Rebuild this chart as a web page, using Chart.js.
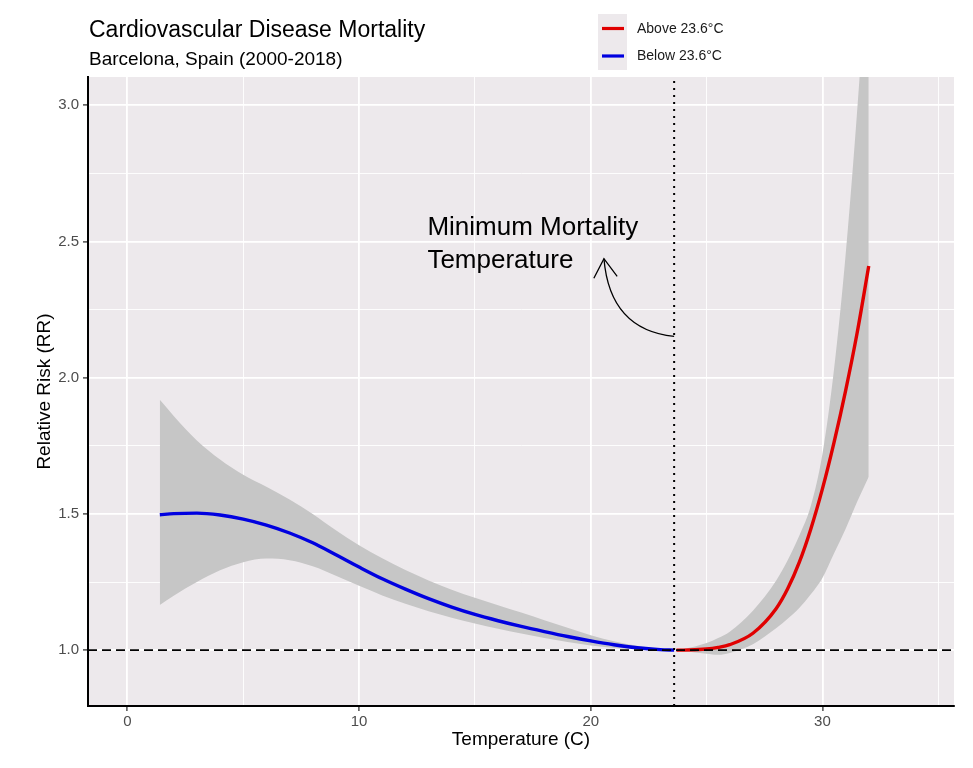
<!DOCTYPE html>
<html>
<head>
<meta charset="utf-8">
<title>Cardiovascular Disease Mortality</title>
<script src="https://cdn.jsdelivr.net/npm/chart.js@4.4.1/dist/chart.umd.min.js"></script>
<style>
  html, body { margin: 0; padding: 0; background: #ffffff; }
  #wrap { width: 973px; height: 768px; }
</style>
</head>
<body>
<div id="wrap"><canvas id="rr-chart" width="973" height="768"></canvas></div>
<script>
// Exposure-response curve, below the minimum mortality temperature
const belowTemp = [1.4, 2, 3, 4, 5, 6, 7, 8, 9, 10, 11, 12, 13, 14, 15, 16, 17, 18, 19, 20, 21, 22, 23, 23.6];
const belowRR   = [1.497, 1.501, 1.503, 1.496, 1.481, 1.459, 1.430, 1.394, 1.350, 1.305, 1.262, 1.224, 1.189, 1.158, 1.131, 1.108, 1.087, 1.068, 1.050, 1.034, 1.020, 1.009, 1.002, 1.000];
const belowLow  = [1.166, 1.200, 1.250, 1.293, 1.323, 1.336, 1.330, 1.308, 1.273, 1.236, 1.201, 1.170, 1.143, 1.119, 1.098, 1.079, 1.061, 1.045, 1.030, 1.017, 1.008, 1.003, 1.000, 1.000];
const belowHigh = [1.919, 1.860, 1.770, 1.700, 1.644, 1.600, 1.553, 1.500, 1.440, 1.385, 1.337, 1.294, 1.256, 1.222, 1.192, 1.165, 1.138, 1.110, 1.082, 1.055, 1.033, 1.016, 1.004, 1.000];

// above the minimum mortality temperature
const aboveTemp = [23.7, 24, 25, 25.5, 26, 27, 28, 28.5, 29, 29.5, 30, 30.5, 31, 31.5, 32];
const aboveRR   = [1.000, 1.000, 1.004, 1.010, 1.020, 1.062, 1.152, 1.225, 1.322, 1.445, 1.592, 1.762, 1.952, 2.165, 2.410];
const aboveLow  = [1.000, 0.997, 0.987, 0.983, 0.990, 1.022, 1.080, 1.115, 1.155, 1.205, 1.265, 1.355, 1.445, 1.545, 1.637];
const aboveHigh = [1.000, 1.004, 1.026, 1.045, 1.068, 1.145, 1.255, 1.330, 1.420, 1.530, 1.720, 2.030, 2.450, 2.980, 3.600];

// axes
const xMajorTicks = [0, 10, 20, 30];
const xMinorTicks = [5, 15, 25, 35];
const yMajorTicks = [1.0, 1.5, 2.0, 2.5, 3.0];
const yMinorTicks = [1.25, 1.75, 2.25, 2.75];
const xRange = [-1.7, 35.68];
const yRange = [0.795, 3.104];

const mmt = 23.6;   // minimum mortality temperature
const refRR = 1.0;

const legendLabels = ["Above 23.6°C", "Below 23.6°C"];

Chart.defaults.font.family = '"Liberation Sans", Arial, Helvetica, sans-serif';

const PANEL = "#EDE9EC";
const BAND = "#C6C6C6";
const RED = "#E00000";
const BLUE = "#0000E0";

const toPoints = (xs, ys) => xs.map((x, i) => ({ x: x, y: ys[i] }));

// grey panel behind the grid
const panelBackground = {
  id: "panelBackground",
  beforeDraw(chart) {
    const { ctx, chartArea: { left, top, width, height } } = chart;
    ctx.save();
    ctx.fillStyle = PANEL;
    ctx.fillRect(left, top, width, height);
    ctx.restore();
  },
};

// titles, legend and the annotation with the curved arrow
const decorations = {
  id: "decorations",
  afterDraw(chart) {
    const ctx = chart.ctx;
    const xs = chart.scales.x;
    const ys = chart.scales.y;
    ctx.save();

    // title + subtitle
    ctx.fillStyle = "#000000";
    ctx.textAlign = "left";
    ctx.textBaseline = "alphabetic";
    ctx.font = '23px "Liberation Sans", Arial, sans-serif';
    ctx.fillText("Cardiovascular Disease Mortality", 89, 37);
    ctx.font = '19px "Liberation Sans", Arial, sans-serif';
    ctx.fillText("Barcelona, Spain (2000-2018)", 89, 65);

    // legend
    ctx.fillStyle = PANEL;
    ctx.fillRect(598, 14, 29, 56);
    ctx.lineWidth = 3.2;
    ctx.strokeStyle = RED;
    ctx.beginPath();
    ctx.moveTo(602, 28.5);
    ctx.lineTo(624, 28.5);
    ctx.stroke();
    ctx.strokeStyle = BLUE;
    ctx.beginPath();
    ctx.moveTo(602, 56);
    ctx.lineTo(624, 56);
    ctx.stroke();
    ctx.fillStyle = "#1A1A1A";
    ctx.font = '14px "Liberation Sans", Arial, sans-serif';
    ctx.textBaseline = "middle";
    ctx.fillText(legendLabels[0], 637, 29);
    ctx.fillText(legendLabels[1], 637, 56.5);

    // annotation text
    ctx.fillStyle = "#000000";
    ctx.textBaseline = "alphabetic";
    ctx.font = '26px "Liberation Sans", Arial, sans-serif';
    const tx = xs.getPixelForValue(12.95);
    const ty = ys.getPixelForValue(2.525);
    ctx.fillText("Minimum Mortality", tx, ty);
    ctx.fillText("Temperature", tx, ty + 33);

    // curved arrow from the MMT line up towards the text
    const p0 = { x: xs.getPixelForValue(mmt), y: ys.getPixelForValue(2.152) };
    const c = { x: xs.getPixelForValue(20.83), y: ys.getPixelForValue(2.176) };
    const p1 = { x: xs.getPixelForValue(20.57), y: ys.getPixelForValue(2.437) };
    ctx.strokeStyle = "#000000";
    ctx.lineWidth = 1.3;
    ctx.beginPath();
    ctx.moveTo(p0.x, p0.y);
    ctx.quadraticCurveTo(c.x, c.y, p1.x, p1.y);
    ctx.stroke();

    const ang = Math.atan2(p1.y - c.y, p1.x - c.x);
    const headLen = 22;
    const spread = Math.PI / 5.6;
    ctx.beginPath();
    ctx.moveTo(p1.x - headLen * Math.cos(ang - spread), p1.y - headLen * Math.sin(ang - spread));
    ctx.lineTo(p1.x, p1.y);
    ctx.lineTo(p1.x - headLen * Math.cos(ang + spread), p1.y - headLen * Math.sin(ang + spread));
    ctx.stroke();

    ctx.restore();
  },
};

const isMajorX = (v) => xMajorTicks.includes(v);
const isMajorY = (v) => yMajorTicks.includes(v);

const bandStyle = {
  borderWidth: 0,
  borderColor: "rgba(0,0,0,0)",
  backgroundColor: BAND,
  pointRadius: 0,
  cubicInterpolationMode: "monotone",
  order: 2,
};

new Chart(document.getElementById("rr-chart"), {
  type: "line",
  data: {
    datasets: [
      // confidence bands
      Object.assign({ label: "below-high", data: toPoints(belowTemp, belowHigh), fill: "+1" }, bandStyle),
      Object.assign({ label: "below-low", data: toPoints(belowTemp, belowLow), fill: false }, bandStyle),
      Object.assign({ label: "above-high", data: toPoints(aboveTemp, aboveHigh), fill: "+1" }, bandStyle),
      Object.assign({ label: "above-low", data: toPoints(aboveTemp, aboveLow), fill: false }, bandStyle),
      // curves
      {
        label: legendLabels[1],
        data: toPoints(belowTemp, belowRR),
        borderColor: BLUE,
        borderWidth: 3.4,
        pointRadius: 0,
        fill: false,
        cubicInterpolationMode: "monotone",
        order: 1,
      },
      {
        label: legendLabels[0],
        data: toPoints(aboveTemp, aboveRR),
        borderColor: RED,
        borderWidth: 3.4,
        pointRadius: 0,
        fill: false,
        cubicInterpolationMode: "monotone",
        order: 1,
      },
      // reference lines
      {
        label: "RR = 1",
        data: [{ x: xRange[0], y: refRR }, { x: xRange[1], y: refRR }],
        borderColor: "#000000",
        borderWidth: 1.7,
        borderDash: [9, 5],
        pointRadius: 0,
        fill: false,
        order: 0,
      },
      {
        label: "MMT",
        data: [{ x: mmt, y: yRange[0] }, { x: mmt, y: yRange[1] }],
        borderColor: "#000000",
        borderWidth: 2,
        borderDash: [2, 5],
        pointRadius: 0,
        fill: false,
        order: 0,
      },
    ],
  },
  options: {
    responsive: false,
    animation: false,
    events: [],
    layout: {
      padding: { left: 0, top: 77, right: 19, bottom: 0 },
    },
    scales: {
      x: {
        type: "linear",
        min: xRange[0],
        max: xRange[1],
        afterBuildTicks(scale) {
          scale.ticks = xMajorTicks.concat(xMinorTicks).sort((a, b) => a - b).map((v) => ({ value: v }));
        },
        afterFit(scale) {
          scale.height = 62;
          scale.paddingLeft = 0;
          scale.paddingRight = 0;
        },
        ticks: {
          autoSkip: false,
          maxRotation: 0,
          padding: 2,
          color: "#4D4D4D",
          font: { size: 15 },
          callback: (value) => (isMajorX(value) ? String(value) : ""),
        },
        grid: {
          color: "#FFFFFF",
          lineWidth: (ctx) => (ctx.tick && isMajorX(ctx.tick.value) ? 1.8 : 0.9),
          tickColor: (ctx) => (ctx.tick && isMajorX(ctx.tick.value) ? "#333333" : "rgba(0,0,0,0)"),
          tickWidth: 1.3,
          tickLength: 5,
        },
        border: { display: true, color: "#000000", width: 2 },
        title: {
          display: true,
          text: "Temperature (C)",
          color: "#000000",
          font: { size: 19 },
          padding: { top: 0, bottom: 17 },
        },
      },
      y: {
        type: "linear",
        min: yRange[0],
        max: yRange[1],
        afterBuildTicks(scale) {
          scale.ticks = yMajorTicks.concat(yMinorTicks).sort((a, b) => a - b).map((v) => ({ value: v }));
        },
        afterFit(scale) {
          scale.width = 88;
          scale.paddingTop = 0;
          scale.paddingBottom = 0;
        },
        ticks: {
          autoSkip: false,
          padding: 4,
          color: "#4D4D4D",
          font: { size: 15 },
          callback: (value) => (isMajorY(value) ? value.toFixed(1) : ""),
        },
        grid: {
          color: "#FFFFFF",
          lineWidth: (ctx) => (ctx.tick && isMajorY(ctx.tick.value) ? 1.8 : 0.9),
          tickColor: (ctx) => (ctx.tick && isMajorY(ctx.tick.value) ? "#333333" : "rgba(0,0,0,0)"),
          tickWidth: 1.3,
          tickLength: 5,
        },
        border: { display: true, color: "#000000", width: 2 },
        title: {
          display: true,
          text: "Relative Risk (RR)",
          color: "#000000",
          font: { size: 19 },
          padding: { top: 33, bottom: 0 },
        },
      },
    },
    plugins: {
      legend: { display: false },
      tooltip: { enabled: false },
      title: { display: false },
    },
  },
  plugins: [panelBackground, decorations],
});
</script>
</body>
</html>
